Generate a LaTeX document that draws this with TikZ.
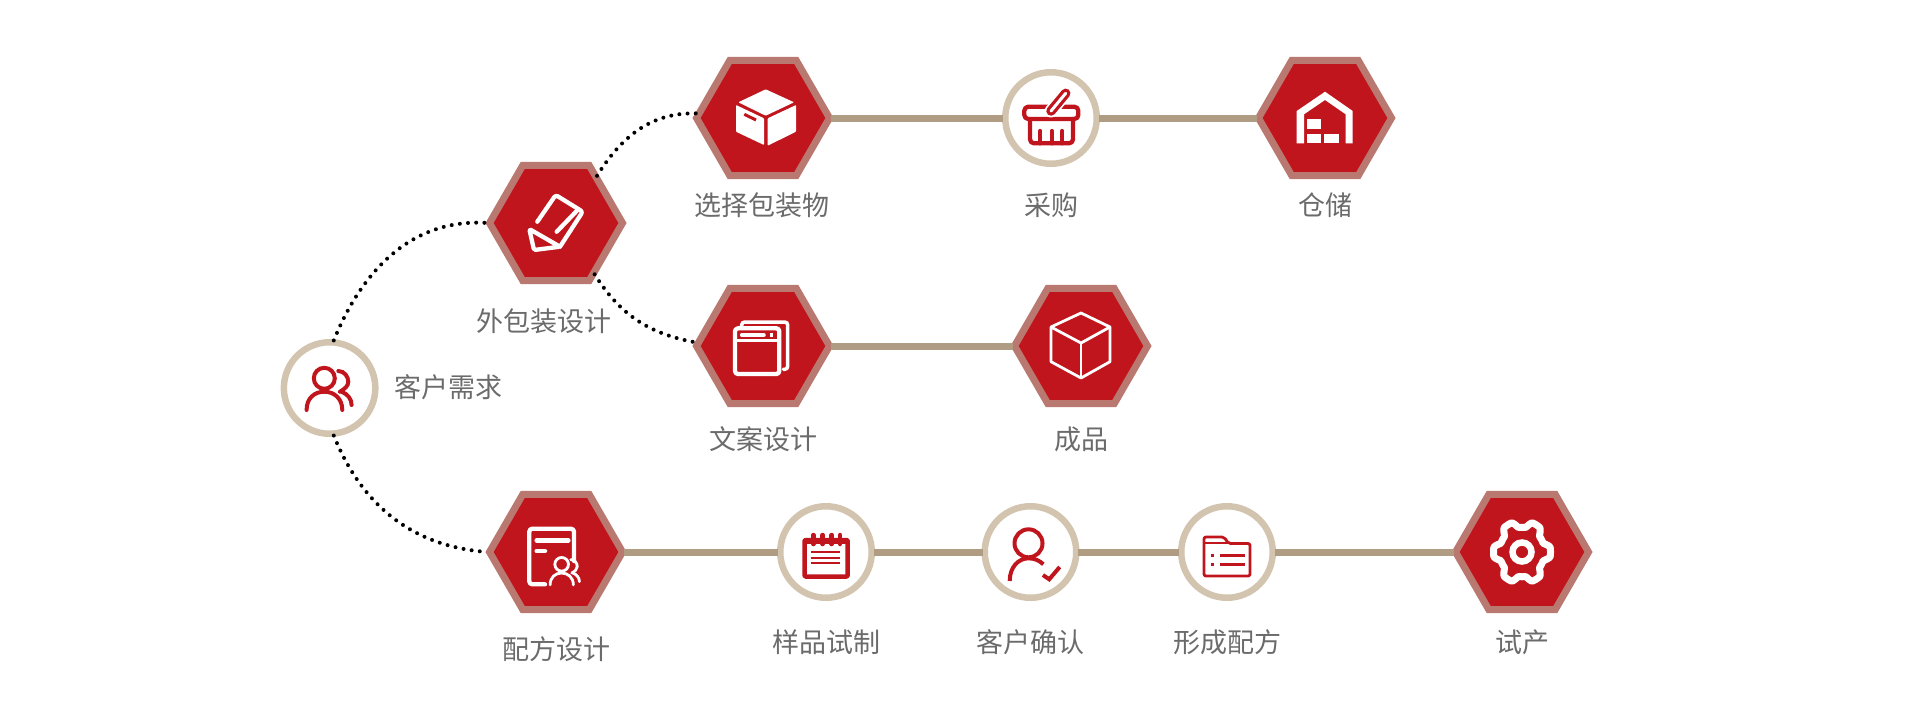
\documentclass[tikz,border=0pt]{standalone}
\usepackage{fontspec}
\setmainfont{Noto Sans CJK SC}
\usetikzlibrary{shapes.geometric}

\definecolor{hexred}{HTML}{C1151D}
\definecolor{hexrim}{HTML}{B97870}
\definecolor{ringtan}{HTML}{D2C4AF}
\definecolor{linktan}{HTML}{AF9C82}
\definecolor{labelgray}{HTML}{6B6B6B}

\tikzset{
    markline/.style={line width=4.3pt, line cap=round, line join=round},
    pics/pencilmark/.style={code={
        \draw[markline, white, rounded corners=2.5pt] (-18.7,1.3) -- (-0.3,28) -- (26.7,11.3) -- (4,-23.7);
        \draw[markline, white, rounded corners=1.5pt] (-26.7,-6) -- (-22,-27) -- (4,-23.7) -- cycle;
        \draw[markline, white] (22.3,13.7) -- (0.7,-8.7);
    }},
    pics/cartonmark/.style={code={
        \fill[white, rounded corners=.8pt] (2.7,28.7) -- (31,15.7) -- (2.7,2.3) -- (-24.7,15.7) -- cycle;
        \fill[white, rounded corners=.8pt] (-27,13) -- (1,-0.3) -- (1,-27) -- (-27,-13.7) -- cycle;
        \fill[white, rounded corners=.8pt] (4.7,-0.3) -- (33,13) -- (33,-13.7) -- (4.7,-27.7) -- cycle;
        \draw[hexred, line width=3pt] (-18.7,3.7) -- (-7,-2);
    }},
    pics/basketmark/.style={code={
        \draw[markline, hexred, rounded corners=4pt] (-21,-1) -- (-21,-25.3) -- (22,-25.3) -- (22,-1);
        \draw[markline, hexred, rounded corners=4pt] (-26.7,-1) rectangle (27.3,11.3);
        \foreach \tickx in {-10.7,0.7,11.3}
            \draw[markline, hexred] (\tickx,-13) -- (\tickx,-25.3);
        \draw[line width=13pt, line cap=round, white] (0,7) -- (14.7,24.7);
        \draw[line width=9.5pt, line cap=round, hexred] (0,7) -- (14.7,24.7);
        \draw[line width=3pt, line cap=round, white] (0,7) -- (14.7,24.7);
    }},
    pics/depotmark/.style={code={
        \fill[white] (-28.3,-25.3) -- (-28.3,7) -- (0,26.3) -- (27.7,7) -- (27.7,-25.3) -- (20.7,-25.3)
            -- (20.7,3.7) -- (0,18) -- (-21,3.7) -- (-21,-25.3) -- cycle;
        \fill[white] (-18.3,-1.3) rectangle (-3.7,-11.3);
        \fill[white] (-18.3,-15.7) rectangle (-3.7,-25.3);
        \fill[white] (-0.7,-15.7) rectangle (13.7,-25.3);
    }},
    pics/windowmark/.style={code={
        \draw[markline, white, rounded corners=3pt] (-28,-28) rectangle (16.3,17.7);
        \draw[white, line width=3.5pt] (-28,5.3) -- (16.3,5.3);
        \draw[white, line width=3.5pt, line cap=round] (-21.3,11) -- (1,11);
        \fill[white] (7,8.7) rectangle (10.3,12.7);
        \draw[white, line width=3.5pt, line cap=round, rounded corners=3pt] (-21.3,18.7) -- (-21.3,24) -- (24.7,24) -- (24.7,-23.3) -- (20.3,-23.3);
    }},
    pics/cubemark/.style={code={
        \draw[white, line width=2.8pt, line join=round] (0,33) -- (29,19) -- (29,-15.7) -- (0,-32) -- (-30,-15.7) -- (-30,19) -- cycle;
        \draw[white, line width=2.8pt, line join=round] (-30,19) -- (0,3) -- (29,19);
        \draw[white, line width=2.8pt] (0,3) -- (0,-32);
    }},
    pics/peoplemark/.style={code={
        \draw[line cap=round] (-5.3,9.7) circle (10.5);
        \draw[line cap=round] (-23,-22) .. controls (-23,-10) and (-15,-3.7) .. (-5.3,-3.7)
            .. controls (4,-3.7) and (12.7,-10) .. (12.7,-22);
        \draw[line cap=round] (8.7,17) .. controls (15,17) and (18.7,11) .. (18.7,6.3)
            .. controls (18.7,2) and (15,-1) .. (10.3,-3.7);
        \draw[line cap=round] (12,-3.7) .. controls (18,-6) and (22,-11) .. (22,-17);
    }},
    pics/sheetmark/.style={code={
        \draw[markline, white, rounded corners=3pt] (-11,-32.3) -- (-26.7,-32.3) -- (-26.7,23.3) -- (18,23.3) -- (18,-9);
        \draw[white, line width=4.5pt, line cap=round] (-19.3,11.7) -- (12.3,11.7);
        \draw[white, line width=4.5pt, line cap=round] (-19.3,1) -- (-11,1);
    }},
    pics/gearmark/.style={code={
        \draw[white, line width=7pt, line join=round] plot[domain=0:357, samples=120, smooth, variable=\t]
            ({(25.5+3*max(-1,min(1,1.8*cos(6*\t))))*cos(\t)},{1.1*(25.5+3*max(-1,min(1,1.8*cos(6*\t))))*sin(\t)}) -- cycle;
        \draw[white, line width=6.5pt] (0,0) circle (9.5);
    }},
    pics/padmark/.style={code={
        \draw[hexred, line width=4.5pt, line join=round, rounded corners=1pt] (-21.5,-24.5) rectangle (21.7,12);
        \fill[hexred] (-21.5,8) rectangle (21.7,14);
        \foreach \ringx in {-12.7,-3.3,5.7,14}
            \draw[hexred, line width=4.5pt, line cap=round] (\ringx,17) -- (\ringx,8);
        \foreach \rowy in {0.3,-5.7,-11.3}
            \draw[hexred, line width=2pt] (-15.3,\rowy) -- (14,\rowy);
    }},
    pics/approvemark/.style={code={
        \draw[hexred, line width=4pt] (-2,8.7) circle (14);
        \draw[hexred, line width=4pt, line join=round] (-20.8,-29) .. controls (-20.8,-15) and (-12,-6.3) .. (-2,-6.3)
            .. controls (4,-6.3) and (9,-8.5) .. (12.8,-12.3);
        \draw[hexred, line width=4pt] (12.4,-23) -- (18.7,-27.3) -- (29.2,-15);
    }},
    pics/foldermark/.style={code={
        \draw[hexred, line width=2.8pt, line join=round, rounded corners=2pt] (-23,-24) -- (-23,15) -- (-3,15) -- (1.5,8.5) -- (23,8.5) -- (23,-24) -- cycle;
        \draw[hexred, line width=2.8pt] (-23,9) -- (1.5,9);
        \foreach \rowy in {-3,-12.3} {
            \draw[hexred, line width=3pt] (-16,\rowy) -- (-13,\rowy);
            \draw[hexred, line width=3pt] (-7.3,\rowy) -- (18.4,\rowy);
        }
    }}
}

\begin{document}
\begin{tikzpicture}[
        x=1pt, y=1pt,
        hexnode/.style={regular polygon, regular polygon sides=6,
            draw=hexrim, fill=hexred, line width=7pt, minimum size=133pt, inner sep=0pt, outer sep=1.5pt},
        ringnode/.style={circle, draw=ringtan, fill=white, line width=6.5pt, minimum size=91.5pt, inner sep=0pt, outer sep=2pt},
        caption/.style={text=labelgray, font=\fontsize{27}{30}\selectfont, inner sep=0pt},
        link/.style={draw=linktan, line width=7pt},
        dotlink/.style={draw=black, line width=4pt, line cap=round, dash pattern=on 0pt off 8.2pt}
    ]
        \useasboundingbox (0,0) rectangle (1921,-721);

        % Hexagons
        \node[hexnode] (packing) at (556,-223) {};
        \node[hexnode] (carton) at (763,-118) {};
        \node[hexnode] (depot) at (1325,-118) {};
        \node[hexnode] (copy) at (763,-346) {};
        \node[hexnode] (product) at (1081,-346) {};
        \node[hexnode] (recipe) at (556,-552) {};
        \node[hexnode] (pilot) at (1522,-552) {};

        % Rings
        \node[ringnode] (client) at (329.6,-388) {};
        \node[ringnode] (purchase) at (1051,-118) {};
        \node[ringnode] (sample) at (826,-552) {};
        \node[ringnode] (approve) at (1030.5,-552) {};
        \node[ringnode] (formula) at (1227,-552) {};

        % Captions
        \node[caption] (packinglabel) at (544,-321) {外包装设计};
        \node[caption] (cartonlabel) at (762,-205) {选择包装物};
        \node[caption] (purchaselabel) at (1051,-205) {采购};
        \node[caption] (depotlabel) at (1325,-205) {仓储};
        \node[caption] (copylabel) at (763,-439) {文案设计};
        \node[caption] (productlabel) at (1081,-439) {成品};
        \node[caption] (clientlabel) at (448,-387) {客户需求};
        \node[caption] (recipelabel) at (556,-649) {配方设计};
        \node[caption] (samplelabel) at (826,-642) {样品试制};
        \node[caption] (approvelabel) at (1030.5,-642) {客户确认};
        \node[caption] (formulalabel) at (1227,-642) {形成配方};
        \node[caption] (pilotlabel) at (1522,-642) {试产};

        % Links
        \draw[link] (carton) -- (purchase);
        \draw[link] (purchase) -- (depot);
        \draw[link] (copy) -- (product);
        \draw[link] (recipe) -- (sample);
        \draw[link] (sample) -- (approve);
        \draw[link] (approve) -- (formula);
        \draw[link] (formula) -- (pilot);

        % Dotted branches
        \draw[dotlink] (client.85) to[out=68, in=176] (packing.west);
        \draw[dotlink] (client.-85) to[out=-68, in=176] (recipe.west);
        \draw[dotlink] (packing.49) to[out=58, in=178] (carton.176);
        \draw[dotlink] (packing.-53) to[out=-58, in=170] (copy.177);

        % Icons
        \pic at (packing) {pencilmark};
        \pic at (carton) {cartonmark};
        \pic at (purchase) {basketmark};
        \pic at (depot) {depotmark};
        \pic at (copy) {windowmark};
        \pic at (product) {cubemark};
        \pic at (recipe) {sheetmark};
        \pic[color=white, line width=2.8pt, scale=.65] at ([shift={(9.1,-18.6)}]recipe) {peoplemark};
        \pic at (pilot) {gearmark};
        \pic[color=hexred, line width=4pt] at (client) {peoplemark};
        \pic at (sample) {padmark};
        \pic at (approve) {approvemark};
        \pic at (formula) {foldermark};
    \end{tikzpicture}
\end{document}
